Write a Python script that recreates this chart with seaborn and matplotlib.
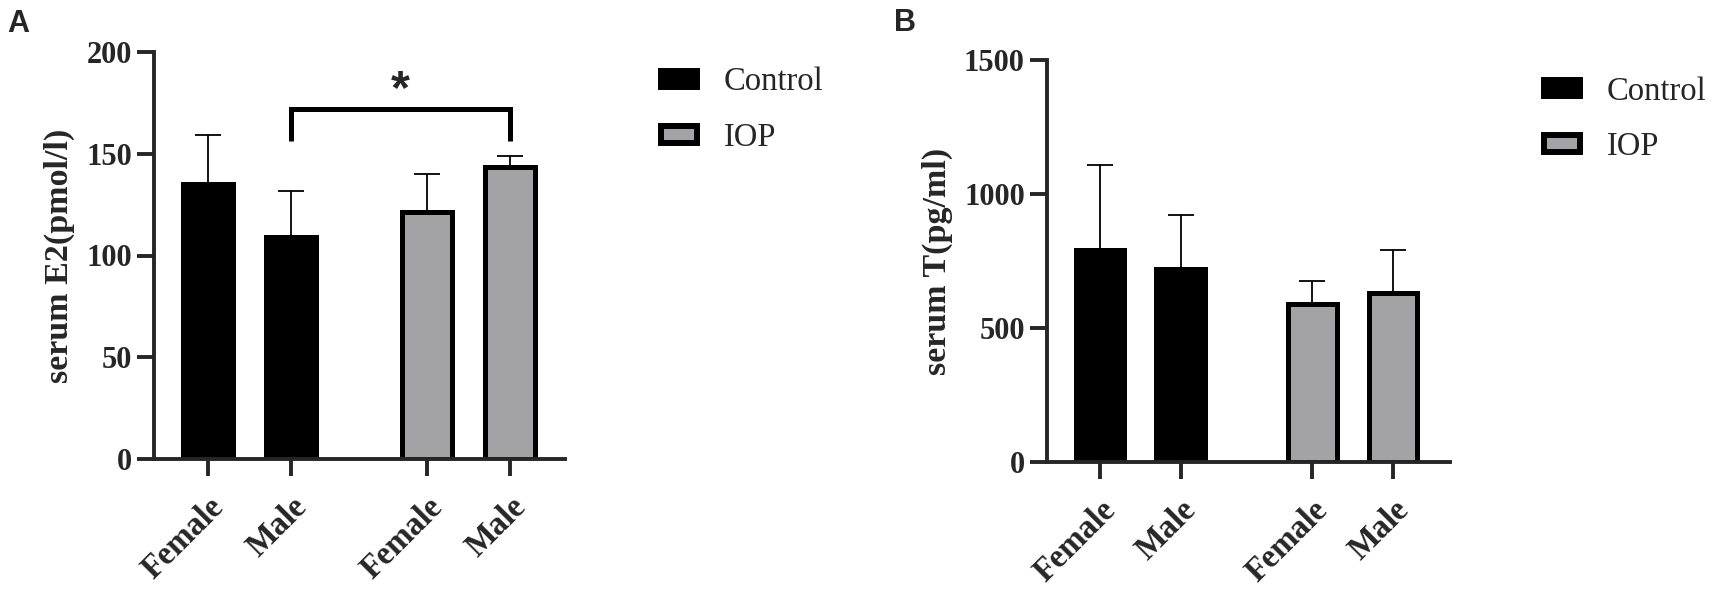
import pandas as pd
import matplotlib
matplotlib.use('Agg')
import matplotlib.pyplot as plt
from matplotlib.patches import Patch
import seaborn as sns

# Datos
grupos = ['Control', 'Control', 'IOP', 'IOP']
sexo = ['Female', 'Male', 'Female', 'Male']
posiciones = [0, 1, 2.64, 3.64]
e2_media = [135, 109, 121.5, 143.5]
e2_sd = [24, 22.5, 18.5, 5.5]
t_media = [791, 720, 589, 631]
t_sd = [316, 201, 85, 160]
colores = {'Control': '#000000', 'IOP': '#a3a3a7'}

sns.set_style('ticks')
plt.rcParams['font.family'] = ['Liberation Serif', 'DejaVu Serif']

fig = plt.figure(figsize=(17.13, 5.89), dpi=100)
ax_a = fig.add_axes([154 / 1713, 1 - 459 / 589, 411 / 1713, 407 / 589])
ax_b = fig.add_axes([1047 / 1713, 1 - 462 / 589, 403 / 1713, 402 / 589])


def panel(ax, media, sd, ylabel, yticks, xlim):
    df = pd.DataFrame({'pos': posiciones, 'valor': media, 'grupo': grupos})
    sns.barplot(data=df, x='pos', y='valor', hue='grupo', palette=colores,
                native_scale=True, dodge=False, width=0.6, errorbar=None,
                edgecolor='black', linewidth=3.6, legend=False, ax=ax)
    # barras de error solo hacia arriba
    ax.errorbar(posiciones, media, yerr=[[0] * len(sd), sd], fmt='none',
                ecolor='black', elinewidth=1.3, capsize=9.5, capthick=1.3)
    ax.set_xlim(*xlim)
    ax.set_ylim(yticks[0], yticks[-1])
    ax.set_yticks(yticks)
    ax.set_xticks(posiciones)
    ax.set_xticklabels(sexo, rotation=45, ha='right', rotation_mode='anchor',
                       fontsize=23.5, fontweight='bold')
    for t in ax.get_yticklabels():
        t.set_fontsize(22)
        t.set_fontweight('bold')
    ax.set_xlabel('')
    ax.set_ylabel(ylabel, fontsize=24.5, fontweight='bold', labelpad=8)
    sns.despine(ax=ax)
    for s in ['left', 'bottom']:
        ax.spines[s].set_linewidth(2.8)
    ax.tick_params(width=2.8, length=12, pad=4)
    ax.tick_params(axis='x', pad=11)


panel(ax_a, e2_media, e2_sd, 'serum E2(pmol/l)', [0, 50, 100, 150, 200], (-0.65, 4.3))
panel(ax_b, t_media, t_sd, 'serum T(pg/ml)', [0, 500, 1000, 1500], (-0.66, 4.35))

# comparacion significativa Male Control vs Male IOP
ax_a.plot([1, 1, 3.64, 3.64], [156.3, 172.2, 172.2, 156.3], color='black', lw=3.6,
          clip_on=False, solid_joinstyle='miter', solid_capstyle='butt')
ax_a.text(2.32, 175, '*', ha='center', va='baseline', fontsize=35,
          fontweight='bold', family='Liberation Sans')

fig.text(7 / 1713, 1 - 9 / 589, 'A', fontsize=22, fontweight='bold',
         family='Liberation Sans', va='top')
fig.text(894 / 1713, 1 - 8 / 589, 'B', fontsize=22, fontweight='bold',
         family='Liberation Sans', va='top')

handles = [Patch(facecolor=colores['Control'], edgecolor='black', linewidth=4.3),
           Patch(facecolor=colores['IOP'], edgecolor='black', linewidth=4.3)]
for x0, y0 in [(660.5, 67), (1543.5, 76)]:
    fig.legend(handles, ['Control', 'IOP'], loc='upper left',
               bbox_to_anchor=(x0 / 1713, 1 - y0 / 589), frameon=False,
               fontsize=23.5, handlelength=1.13, handleheight=0.39,
               handletextpad=0.8, labelspacing=0.77, borderpad=0,
               borderaxespad=0)

fig.savefig('out.png', dpi=100)
